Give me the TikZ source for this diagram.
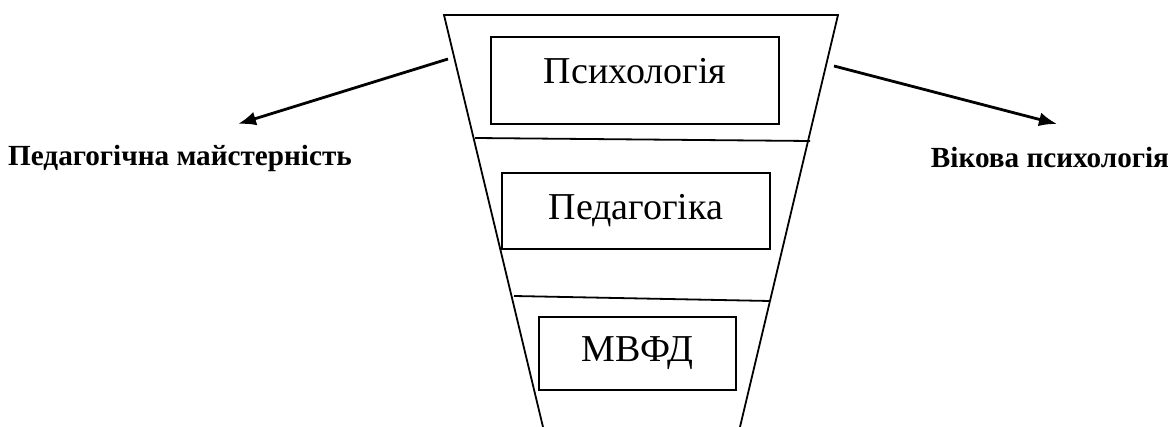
\documentclass[tikz,border=0pt]{standalone}
\usepackage{fontspec}
\setmainfont{Liberation Serif}
\usetikzlibrary{arrows.meta}

\begin{document}
\begin{tikzpicture}[x=0.5pt,y=-0.5pt,
					box/.style={shape=rectangle, draw, line width=1pt, font=\fontsize{19}{22}\selectfont},
					side/.style={font=\fontsize{14.6}{17}\selectfont\bfseries},
					pointer/.style={line width=1.4pt, -{Latex[length=9pt,width=7pt]}}
					]
	\useasboundingbox (0,0) rectangle (1174,427); %frame
	
	%funnel-------------------------------------------------
	\draw[line width=0.9pt] (543,427) -- (444,15) -- (838,15) -- (740,427); %funnel sides
	\draw[line width=0.9pt] (475,138) -- (810,141); %separator 1
	\draw[line width=0.9pt] (514,296) -- (770,301); %separator 2
	
	%boxes--------------------------------------------------
	\node[box, minimum width=144pt, minimum height=43.5pt, text depth=10pt] (psy) at (635,80.5) {Психологія}; %top box
	\node[box, minimum width=134pt, minimum height=38pt] (ped) at (636,211) {Педагогіка}; %middle box
	\node[box, minimum width=98.5pt, minimum height=36.5pt] (mvfd) at (637.5,353.5) {МВФД}; %bottom box
	
	%sides--------------------------------------------------
	\node[side] (mast) at (180,158) {Педагогічна майстерність}; %left label
	\node[side] (vik) at (1050,158) {Вікова психологія}; %right label
	
	\coordinate (lfrom) at (448,59); %left start
	\coordinate (lto) at (238,124); %left end
	\coordinate (rfrom) at (834,66); %right start
	\coordinate (rto) at (1057,124); %right end
	\draw[pointer] (lfrom) -- (lto); %left arrow
	\draw[pointer] (rfrom) -- (rto); %right arrow
\end{tikzpicture}
\end{document}
